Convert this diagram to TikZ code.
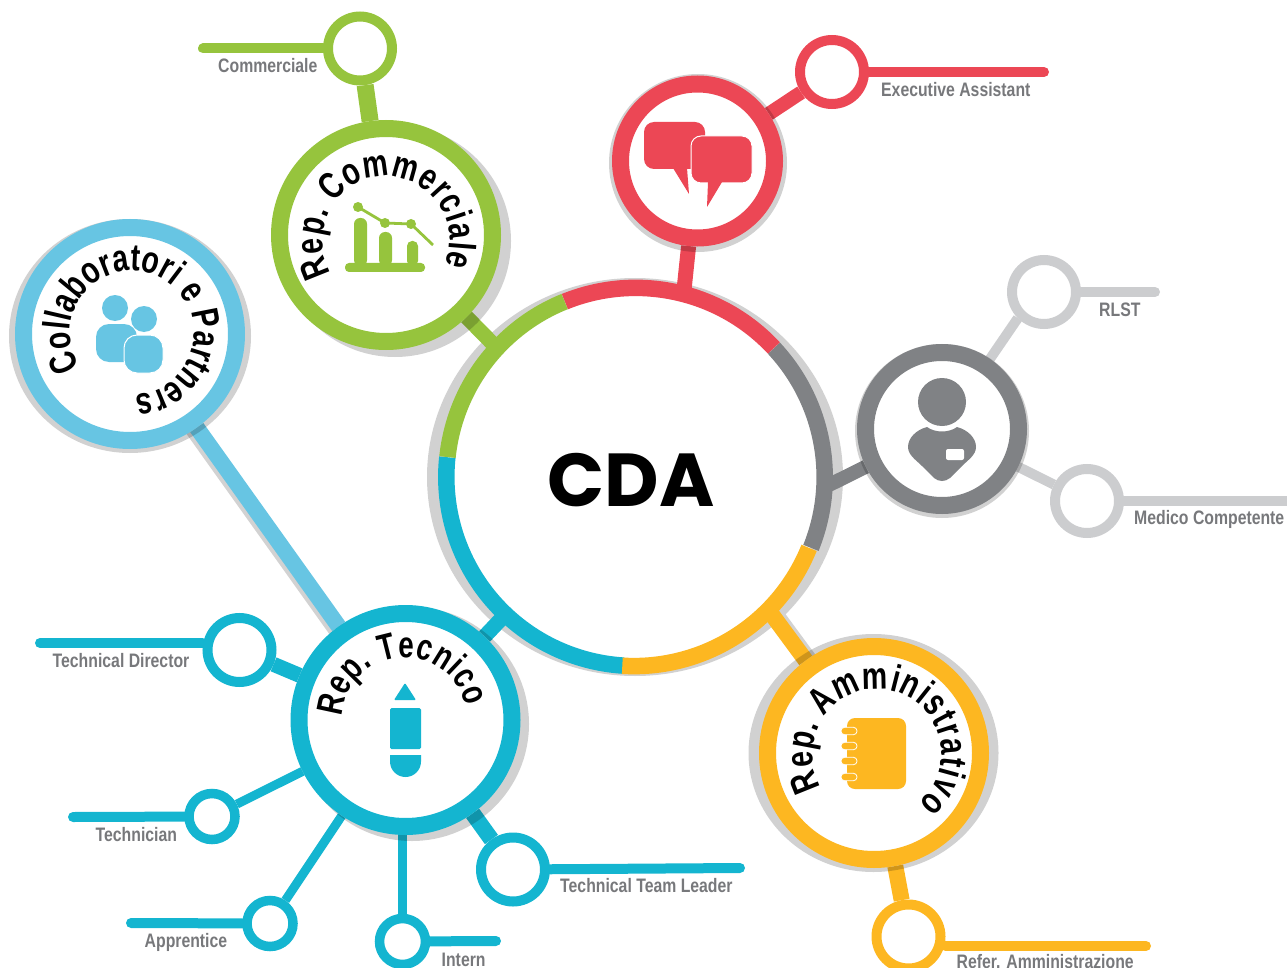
\documentclass[tikz,border=0pt]{standalone}
\usepackage{fontspec}
\setmainfont{Liberation Sans}
\newfontfamily\labfam[FakeStretch=0.81]{Liberation Sans}
\newfontfamily\arcfam[FakeStretch=0.75]{Liberation Sans}
\newfontfamily\cdafam{Poppins}
\usetikzlibrary{decorations.text,calc}
\definecolor{cgreen}{HTML}{96C43D}
\definecolor{cred}{HTML}{EC4755}
\definecolor{cgray}{HTML}{808285}
\definecolor{clight}{HTML}{CCCDCF}
\definecolor{csky}{HTML}{67C5E3}
\definecolor{cblue}{HTML}{14B5D0}
\definecolor{cyellow}{HTML}{FDB721}
\definecolor{clabel}{HTML}{77787B}
\definecolor{cshade}{HTML}{D2D2D2}
\pgfdeclarelayer{under}
\pgfdeclarelayer{conn}
\pgfdeclarelayer{shad}
\pgfsetlayers{under,conn,shad,main}
\tikzset{
  hub/.style={circle,inner sep=0pt,fill=white,draw=#1,line width=17pt,minimum size=213pt},
  sat/.style={circle,inner sep=0pt,fill=white,draw=#1,line width=10pt,minimum size=64pt},
  tiny/.style={circle,inner sep=0pt,fill=white,draw=#1,line width=9.5pt,minimum size=46pt},
  link/.style={draw=#1,line cap=butt},
  tail/.style={draw=#1,line width=10pt,line cap=round},
  labelt/.style={anchor=base west,inner sep=0pt,text=clabel,font=\labfam\bfseries\fontsize{19.5}{20}\selectfont},
  shadow/.style={fill=black,fill opacity=0.18},
}
\newcommand\arcsz[1]{\arcfam\bfseries\fontsize{#1}{#1}\selectfont}
\newcommand\curved[6]{\path[decorate,decoration={text along path,text={|\arcsz{#6}|#5},text align=fit to path}]
  (#1) ++(#3:#2) arc[start angle=#3,end angle=#4,radius=#2];}
\begin{document}
\begin{tikzpicture}[x=1pt,y=1pt]
\useasboundingbox (0,0) rectangle (1287,-968);
% main hubs
\node[circle,inner sep=0pt,fill=white,minimum size=378pt] (cda) at (635.5,-477) {};
\node[font=\cdafam\bfseries\fontsize{75}{75}\selectfont,inner sep=0pt] (cdat) at (631,-480) {CDA};
\node[hub=cgreen] (com) at (386,-235) {};
\node[hub=cred,minimum size=154pt] (rede) at (697.5,-161) {};
\node[hub=cgray,minimum size=153pt] (gry) at (942,-429) {};
\node[hub=csky] (col) at (130,-334) {};
\node[hub=cblue] (tec) at (405.5,-720) {};
\node[hub=cyellow] (amm) at (874,-753) {};
% satellites
\node[sat=cgreen] (scom) at (360,-48.5) {};
\node[sat=cred] (sexe) at (832,-72) {};
\node[sat=clight] (srl) at (1044,-292) {};
\node[sat=clight] (smed) at (1087,-501) {};
\node[sat=cblue] (std) at (239.5,-650) {};
\node[tiny=cblue] (stn) at (212,-816.5) {};
\node[tiny=cblue] (sap) at (270,-923.5) {};
\node[tiny=cblue] (sin) at (402.5,-941.5) {};
\node[sat=cblue] (stl) at (513,-869.5) {};
\node[sat=cyellow] (sref) at (908.5,-936.5) {};
% free ends
\coordinate (cdaC) at (495,-346);
\coordinate (cdaR) at (684,-290);
\coordinate (cdaG) at (825,-487);
\coordinate (cdaY) at (770,-612);
\coordinate (e1) at (203,-48.5);
\coordinate (e2) at (1044,-72);
\coordinate (e3) at (1155,-292);
\coordinate (e4) at (1295,-501);
\coordinate (e5) at (40,-643);
\coordinate (e6) at (73,-817);
\coordinate (e7) at (131,-923);
\coordinate (e8) at (496,-941);
\coordinate (e9) at (740,-868);
\coordinate (e10) at (1146,-946);
\begin{pgfonlayer}{under}
  \fill[shadow] (635,-477) ellipse (208 and 199);
  \draw[link=cshade,line width=16pt] ([xshift=-5pt]col.center) -- ([xshift=-5pt]tec.center);
  \draw[link=cshade,line width=16pt] ([xshift=4pt]amm.center) -- ([xshift=4pt]cdaY);
\end{pgfonlayer}
\begin{pgfonlayer}{shad}
  \fill[shadow] (395,-241) circle (116);
  \fill[shadow] (698,-163) circle (89);
  \fill[shadow] (942,-431) circle (87);
  \fill[shadow] (130,-336) ellipse (121 and 117);
  \fill[shadow] (412,-724) circle (117);
  \fill[shadow] (873.5,-753) ellipse (125 and 119);
\end{pgfonlayer}
\begin{pgfonlayer}{conn}
  \draw[link=cgreen,line width=15pt] (com) -- (cdaC);
  \draw[link=cred,line width=15pt] (rede) -- (cdaR);
  \draw[link=cgray,line width=14pt] (gry) -- (cdaG);
  \draw[link=cyellow,line width=16pt] (amm) -- (cdaY);
  \draw[link=cblue,line width=15pt] (tec) -- (cda);
  \draw[link=csky,line width=16pt] (col) -- (tec);
  \draw[link=cgreen,line width=17pt] (scom) -- (com);
  \draw[link=cred,line width=14pt] (sexe) -- (rede);
  \draw[link=clight,line width=10pt] (srl.south west) -- (gry);
  \draw[link=clight,line width=10pt] (smed) -- (gry);
  \draw[link=cblue,line width=15pt] (std) -- (tec);
  \draw[link=cblue,line width=9pt] (stn) -- (tec);
  \draw[link=cblue,line width=9pt] (sap) -- (tec);
  \draw[link=cblue,line width=9.5pt] (sin) -- (sin |- tec);
  \draw[link=cblue,line width=16pt] (stl) -- (tec);
  \draw[link=cyellow,line width=16pt] (sref) -- (amm);
  \draw[tail=cgreen] (e1) -- (scom);
  \draw[tail=cred] (e2) -- (sexe);
  \draw[tail=clight] (e3) -- (srl);
  \draw[tail=clight] (e4) -- (smed);
  \draw[tail=cblue] (e5) -- (e5 -| std.west);
  \draw[tail=cblue] (e6) -- (stn);
  \draw[tail=cblue] (e7) -- (sap);
  \draw[tail=cblue] (e8) -- (sin);
  \draw[tail=cblue] (e9) -- (stl);
  \draw[tail=cyellow] (e10) -- (e10 -| sref.east);
\end{pgfonlayer}
% CDA ring
\begin{scope}[line width=16.5pt]
  \draw[cblue] (cda.174) arc[start angle=174,end angle=266.5,radius=189];
  \draw[cyellow] (cda.266.5) arc[start angle=266.5,end angle=338,radius=189];
  \draw[cgray] (cda.338) arc[start angle=338,end angle=403,radius=189];
  \draw[cred] (cda.43) arc[start angle=403,end angle=472,radius=189];
  \draw[cgreen] (cda.112) arc[start angle=472,end angle=534,radius=189];
\end{scope}
% curved titles
\curved{386,-240}{63.5}{211}{-23}{Rep. Commerciale}{38}
\curved{132,-333}{62}{213}{-85}{Collaboratori e Partners}{38}
\curved{404.6,-720}{62.8}{177}{12}{Rep. Tecnico}{37}
\curved{877,-753.6}{64.5}{211}{-50}{Rep. Amministrativo}{38}
% labels
\node[labelt] (l1) at (218,-73) {Commerciale};
\node[labelt] (l2) at (881,-97) {Executive Assistant};
\node[labelt] (l3) at (1099,-316.5) {RLST};
\node[labelt] (l4) at (1134,-524.5) {Medico Competente};
\node[labelt] (l5) at (52.5,-667.5) {Technical Director};
\node[labelt] (l6) at (95.5,-841.5) {Technician};
\node[labelt] (l7) at (144.5,-947) {Apprentice};
\node[labelt] (l8) at (560,-892) {Technical Team Leader};
\node[labelt] (l9) at (441.5,-966) {Intern};
\node[labelt] (l10) at (956.5,-968.5) {Refer. Amministrazione};
% chart icon
\fill[cgreen,rounded corners=4pt] (345,-263) rectangle (425,-272);
\fill[cgreen,rounded corners=6pt] (354,-266) -- (354,-218) -- (367,-218) -- (367,-266) -- cycle;
\fill[cgreen,rounded corners=6pt] (379,-266) -- (379,-232) -- (392,-232) -- (392,-266) -- cycle;
\fill[cgreen,rounded corners=5pt] (407,-266) -- (407,-241) -- (418,-241) -- (418,-266) -- cycle;
\draw[cgreen,line width=2.8pt] (358,-207) -- (385,-223) -- (411,-224) -- (433,-245);
\fill[cgreen] (358,-207) circle (5) (385,-223) circle (5) (411,-224) circle (5);
% speech icon
\fill[cred,rounded corners=10pt] (644,-122) rectangle (705,-169);
\fill[cred] (673,-168) -- (689,-194) -- (687,-168) -- cycle;
\fill[cred,draw=white,line width=1pt,rounded corners=10pt] (691,-136) rectangle (752,-183);
\fill[cred] (708,-182) -- (707,-207) -- (722,-182) -- cycle;
% person icon
\fill[cgray] (942,-402) circle (24);
\fill[cgray] (927,-427) .. controls (935,-433) and (949,-433) .. (957,-427)
  .. controls (968,-430) and (976,-438) .. (976,-447)
  .. controls (976,-455) and (968,-460) .. (962,-466)
  -- (950,-478) .. controls (945,-482) and (939,-482) .. (934,-478)
  -- (922,-466) .. controls (916,-460) and (908,-455) .. (908,-447)
  .. controls (908,-438) and (916,-430) .. (927,-427) -- cycle;
\fill[white,rounded corners=2pt] (946,-449) rectangle (964,-460);
% people icon
\fill[csky] (115,-308) circle (13) (144,-319) circle (13);
\fill[csky,rounded corners=13pt] (96,-324) rectangle (137,-362);
\fill[csky,draw=white,line width=1pt,rounded corners=13pt] (124,-335) rectangle (163,-373);
% pencil icon
\fill[cblue,rounded corners=1pt] (405,-683) -- (416,-700) -- (394,-700) -- cycle;
\fill[cblue,rounded corners=1.5pt] (390,-708) rectangle (421,-749);
\fill[cblue] (390,-755) -- (421,-755) -- (421,-761.5) arc[start angle=0,end angle=-180,radius=15.5] -- cycle;
% notebook icon
\fill[cyellow,rounded corners=8pt] (847,-718) rectangle (906,-789);
\foreach \ry in {731,746,761,777}
  \fill[cyellow,draw=white,line width=0.8pt,rounded corners=3.5pt] (841,-\ry+3.7) rectangle (857,-\ry-3.7);
\end{tikzpicture}
\end{document}
